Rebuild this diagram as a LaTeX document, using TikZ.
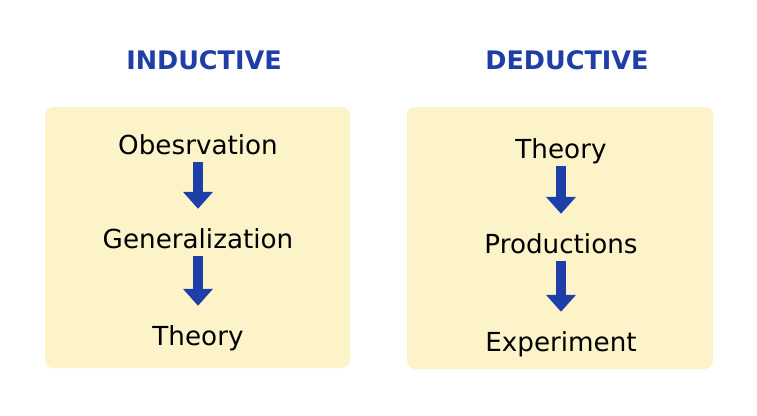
\documentclass[tikz,border=0pt]{standalone}
\usepackage{fontspec}
\setmainfont{DejaVu Sans}
\usetikzlibrary{arrows.meta}
\definecolor{titleblue}{RGB}{31,62,166}
\definecolor{arrowblue}{RGB}{30,62,170}
\definecolor{panelfill}{RGB}{253,243,201}
\tikzset{
  panel/.style={fill=panelfill, draw=none, rounded corners=8pt, inner sep=0pt},
  heading/.style={anchor=base, inner sep=0pt, text=titleblue, font=\fontsize{25.5}{30}\selectfont\bfseries},
  item/.style={anchor=base, inner sep=0pt, text height=19pt, text depth=0pt, text=black, font=\fontsize{26.2}{30}\selectfont},
  flow/.style={draw=arrowblue, line width=10pt, -{Triangle[width=29pt,length=17pt]}, shorten <=8pt, shorten >=20pt}
}
\begin{document}
\begin{tikzpicture}[x=1pt,y=-1pt]
\useasboundingbox (0,0) rectangle (757,415);
\node[panel, minimum width=305pt, minimum height=261pt] (lp) at (197.5,237.5) {};
\node[panel, minimum width=306pt, minimum height=262pt] (rp) at (560,238) {};
\node[heading] (ti) at (204,69) {INDUCTIVE};
\node[heading] (td) at (567,69) {DEDUCTIVE};
\node[item] (obs) at (198,154) {Obesrvation};
\node[item] (gen) at (198,248) {Generalization};
\node[item] (th1) at (198,345) {Theory};
\node[item] (th2) at (561,158) {Theory};
\node[item] (pro) at (561,253) {Productions};
\node[item] (exp) at (561,351) {Experiment};
\draw[flow] (obs.south) -- (gen.north);
\draw[flow] (gen.south) -- (th1.north);
\draw[flow] (th2.south) -- (pro.north);
\draw[flow] (pro.south) -- (exp.north);
\end{tikzpicture}
\end{document}
